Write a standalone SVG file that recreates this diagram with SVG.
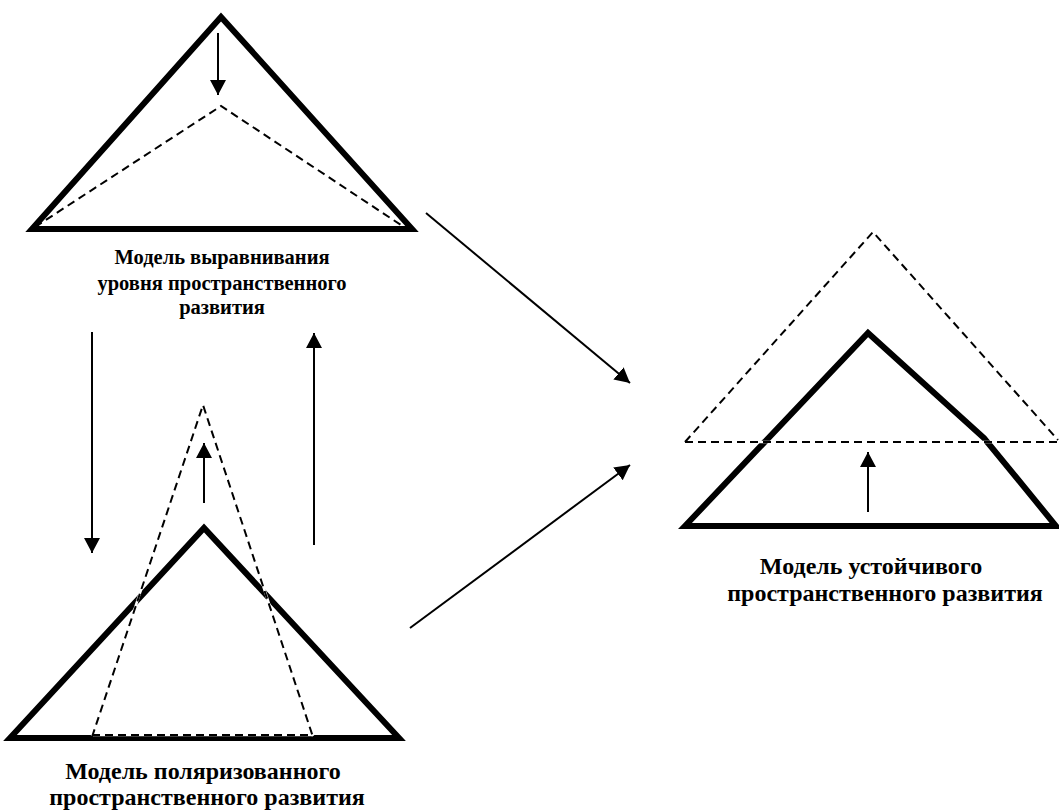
<svg xmlns="http://www.w3.org/2000/svg" width="1059" height="812" viewBox="0 0 1059 812">
<defs>
<marker id="ah" markerUnits="userSpaceOnUse" markerWidth="17" markerHeight="17" refX="15" refY="8" orient="auto">
<path d="M0,0 L15,8 L0,16 z" fill="#000"/>
</marker>
<style>
.solid{fill:none;stroke:#000;stroke-width:6;stroke-linejoin:miter;stroke-miterlimit:10}
.under{fill:none;stroke:#fff;stroke-width:2.5}
.dash{fill:none;stroke:#000;stroke-width:2;stroke-dasharray:8 5}
.arrow{fill:none;stroke:#000;stroke-width:2;marker-end:url(#ah)}
.lbl{font-family:"Liberation Serif","Times New Roman",serif;font-weight:bold;fill:#000;text-anchor:middle}
.s1{font-size:20.5px}
.s2{font-size:24px}
</style>
</defs>
<rect width="1059" height="812" fill="#fff"/>

<g id="node-leveling">
<polygon class="solid" points="32,229 221,17 412,229"/>
<polyline class="dash" points="35,227 221,106 404,227"/>
<text class="lbl s1" x="222" y="264">Модель выравнивания</text>
<text class="lbl s1" x="222" y="290">уровня пространственного</text>
<text class="lbl s1" x="222" y="314">развития</text>
</g>

<g id="node-polarized">
<polygon class="solid" points="10,738 204,528 399,738"/>
<polyline class="under" points="92,736 203,405 313,736"/>
<line class="under" x1="92" y1="735" x2="313" y2="735"/>
<polyline class="dash" points="92,737 203,405 313,737"/>
<line class="dash" x1="92" y1="735" x2="313" y2="735"/>
<text class="lbl s2" x="203" y="779">Модель поляризованного</text>
<text class="lbl s2" x="207" y="805">пространственного развития</text>
</g>

<g id="node-sustainable">
<polygon class="solid" points="685,526 868,333 984,438 1056,526"/>
<polyline class="under" points="685,442 873,232 1058,440"/>
<line class="under" x1="685" y1="442" x2="1058" y2="442"/>
<polyline class="dash" points="685,442 873,232 1058,440"/>
<line class="dash" x1="685" y1="442" x2="1058" y2="442"/>
<text class="lbl s2" x="871" y="574">Модель устойчивого</text>
<text class="lbl s2" x="885" y="601">пространственного развития</text>
</g>

<g id="connectors">
<line class="arrow" x1="218" y1="33" x2="218" y2="95"/>
<line class="arrow" x1="204" y1="503" x2="204" y2="443"/>
<line class="arrow" x1="868" y1="512" x2="868" y2="452"/>
<line class="arrow" x1="92" y1="332" x2="92" y2="553"/>
<line class="arrow" x1="314" y1="545" x2="314" y2="333"/>
<line class="arrow" x1="426" y1="213" x2="630" y2="383"/>
<line class="arrow" x1="410" y1="628" x2="630" y2="465"/>
</g>
</svg>
